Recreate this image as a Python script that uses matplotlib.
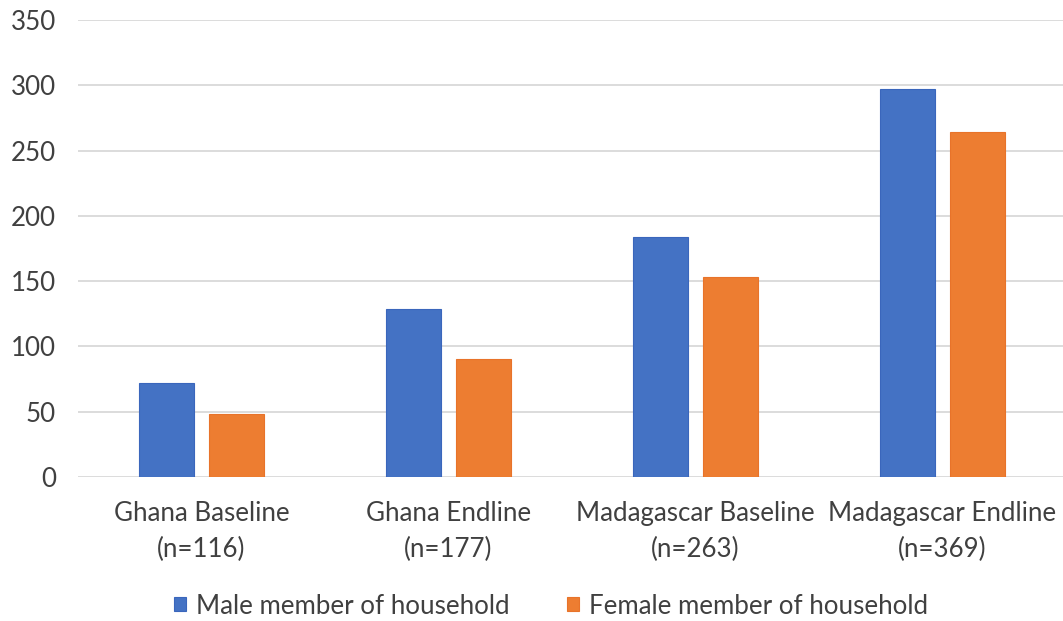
import matplotlib
matplotlib.use("Agg")
import matplotlib.pyplot as plt
import numpy as np

categories = ["Ghana Baseline\n(n=116)", "Ghana Endline\n(n=177)",
              "Madagascar Baseline\n(n=263)", "Madagascar Endline\n(n=369)"]
male = [72, 129, 184, 297]
female = [48, 90, 153, 264]
series_names = ["Male member of household", "Female member of household"]
yticks = [0, 50, 100, 150, 200, 250, 300, 350]

plt.rcParams['font.family'] = ['Lato', 'DejaVu Sans']
FS = 18.6

fig = plt.figure(figsize=(10.63, 6.21), dpi=100)
ax = fig.add_axes([78/1063, 1-477/621, 988/1063, 457/621])

x = np.arange(len(categories))
w = 0.223
off = 0.142
ax.bar(x - off, male, w, color="#4472C4", edgecolor="#3A66BC", linewidth=0.8,
       label=series_names[0], zorder=3)
ax.bar(x + off, female, w, color="#ED7D31", edgecolor="#E8732A", linewidth=0.8,
       label=series_names[1], zorder=3)

ax.set_xlim(-0.5, 3.5)
ax.set_ylim(0, 350)
ax.set_yticks(yticks)
ax.set_xticks(x)
ax.set_xticklabels(categories, fontsize=FS, color="#404040", linespacing=1.55)
ax.tick_params(axis='y', labelsize=FS, colors="#404040", length=0, pad=16)
ax.tick_params(axis='x', length=0, pad=17)
ax.grid(axis='y', color="#d9d9d9", linewidth=1.3, zorder=0)
for s in ax.spines.values():
    s.set_visible(False)

fig.legend(loc="center", bbox_to_anchor=(551/1063, 1-606/621), ncol=2,
           frameon=False, fontsize=FS, handlelength=0.47, handleheight=0.47,
           handletextpad=0.38, columnspacing=2.25, labelcolor="#404040")

fig.savefig("out.png", dpi=100)
